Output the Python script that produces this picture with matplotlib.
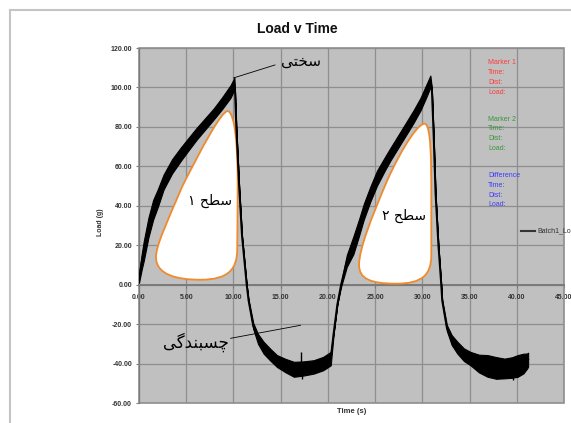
import numpy as np
import matplotlib
matplotlib.use('Agg')
import matplotlib.pyplot as plt
from matplotlib.path import Path
from matplotlib.patches import PathPatch, Rectangle
from matplotlib.lines import Line2D

# load trace: time (s), mid load (g), noise half-band (g)
time = [0.0, 0.3, 0.5, 1.0, 1.5, 2.0, 2.6, 3.5, 4.4, 5.2, 6.1, 7.0, 7.9, 8.8, 9.7, 10.1,
        10.15, 10.3, 10.6, 10.9, 11.1, 11.4, 11.6, 12.1, 12.6, 13.2, 13.9, 14.6, 15.5,
        16.4, 17.4, 18.5, 19.5, 20.3, 20.6, 21.0, 21.4, 22.0, 22.7, 23.3, 23.8, 24.5,
        25.2, 26.0, 26.6, 27.5, 28.4, 29.1, 29.8, 30.4, 30.85,
        31.0, 31.2, 31.4, 31.7, 32.0, 32.1, 32.6, 33.1, 33.7, 34.4, 35.1, 36.0, 36.9,
        37.8, 38.7, 39.5, 40.1, 40.7, 41.1, 41.2]
load = [3, 12, 17, 29, 38, 44, 52, 60, 66, 71, 76.5, 81.5, 86.5, 92, 98, 102,
        100, 80, 50, 25, 15, 0, -8, -21, -27.5, -32, -35.5, -38.7, -41,
        -42.9, -42.5, -41.7, -40, -37.5, -25, -10, 0, 12, 20, 29, 37, 46,
        54, 61, 66, 73, 80, 85.5, 91.5, 98, 103,
        100, 75, 46, 20, 0, -8, -22, -28, -31.9, -35.5, -37.5, -40, -41.2,
        -42.2, -42.5, -42, -41.2, -40, -38.7, -38]
noise = [2, 4, 5, 5, 5, 4.5, 3.8, 3.6, 3.4, 3.2, 3.0, 2.9, 2.8, 3.0, 3.2, 3,
         0, 0, 0, 0, 0, 0, 0.5, 1.5, 2.5, 3, 3, 3, 3.4,
         3.8, 3.6, 3.4, 3.4, 3.4, 0.5, 0, 1, 3, 4.5, 4.2, 4.0, 3.8,
         3.8, 3.4, 3.2, 3.2, 3.2, 3.2, 3.2, 3.2, 3,
         0, 0, 0, 0, 0, 0.5, 1.5, 2.5, 3, 3.2, 3.4, 4.5, 5.5,
         5.5, 5, 5.2, 5.5, 5, 3.8, 3.5]

# a few noise spikes (time, low, high)
spike_t = [17.1, 17.3, 37.9, 39.6]
spike_lo = [-44, -48, -48, -48.5]
spike_hi = [-34, -40, -40, -41]

xticks = [0, 5, 10, 15, 20, 25, 30, 35, 40, 45]
yticks = [-60, -40, -20, 0, 20, 40, 60, 80, 100, 120]

# hand drawn regions: start point + bezier segments (data units)
blob1 = [(9.45, 88),
         (10.2, 86), (10.45, 70), (10.45, 50),
         (10.45, 35), (10.4, 25), (10.4, 18),
         (10.4, 8), (9.5, 2.5), (6.5, 2.5),
         (4.0, 2.5), (1.8, 5), (1.8, 14),
         (1.8, 20), (3.0, 32), (4.6, 50),
         (6.5, 68), (8.8, 89), (9.45, 88)]
blob2 = [(30.35, 81.5),
         (30.9, 79), (30.95, 65), (30.95, 45),
         (30.95, 30), (30.95, 20), (30.95, 15),
         (30.95, 5), (30.0, 0.5), (27.2, 0.5),
         (24.5, 0.5), (23.3, 3), (23.3, 10),
         (23.3, 18), (24.6, 34), (26.3, 53),
         (27.9, 70), (29.7, 83), (30.35, 81.5)]

# persian labels
label_stiff = 'سختی'
label_area1 = 'سطح ۱'
label_area2 = 'سطح ۲'
label_adh = 'چسبندگی'

FORMS = {
    'س': '\uFEB1\uFEB2\uFEB3\uFEB4',
    'خ': '\uFEA5\uFEA6\uFEA7\uFEA8',
    'ت': '\uFE95\uFE96\uFE97\uFE98',
    'ی': '\uFBFC\uFBFD\uFBFE\uFBFF',
    'ط': '\uFEC1\uFEC2\uFEC3\uFEC4',
    'ح': '\uFEA1\uFEA2\uFEA3\uFEA4',
    'چ': '\uFB7A\uFB7B\uFB7C\uFB7D',
    'ب': '\uFE8F\uFE90\uFE91\uFE92',
    'ن': '\uFEE5\uFEE6\uFEE7\uFEE8',
    'گ': '\uFB92\uFB93\uFB94\uFB95',
    'د': '\uFEA9\uFEAA',
}


def shape(s):
    # matplotlib has no arabic shaping, so pick the joined forms and reverse
    out = []
    for i, c in enumerate(s):
        f = FORMS.get(c)
        if f is None:
            out.append(c)
            continue
        prev = s[i - 1] if i > 0 else ''
        nxt = s[i + 1] if i + 1 < len(s) else ''
        a = prev in FORMS and len(FORMS[prev]) == 4
        b = len(f) == 4 and nxt in FORMS
        if len(f) == 4:
            out.append(f[(1 if a else 0) + (2 if b else 0)])
        else:
            out.append(f[1 if a else 0])
    return ''.join(reversed(out))


W, H = 571, 423
fig = plt.figure(figsize=(W / 100, H / 100), dpi=100)
fig.patch.set_facecolor('white')

# outer chart border
fig.add_artist(Line2D([10 / W, 570 / W], [1 - 10 / H, 1 - 10 / H], color='#c4c4c4', lw=1.5))
fig.add_artist(Line2D([10 / W, 10 / W], [1 - 10 / H, 0], color='#c4c4c4', lw=1.5))

ax = fig.add_axes([139 / W, 1 - 403 / H, 425 / W, 355 / H])
ax.set_facecolor('#c0c0c0')
ax.set_xlim(0, 45)
ax.set_ylim(-60, 120)
ax.set_xticks(xticks)
ax.set_yticks(yticks)
ax.set_xticklabels(['%.2f' % v for v in xticks])
ax.set_yticklabels(['%.2f' % v for v in yticks])
ax.grid(True, color='#8e8e8e', lw=0.9)
ax.set_axisbelow(True)

for s in ['top', 'right']:
    ax.spines[s].set_visible(False)
ax.spines['left'].set_color('#7a7a7a')
ax.spines['bottom'].set_position(('data', 0))
ax.spines['bottom'].set_color('#7a7a7a')
ax.spines['bottom'].set_linewidth(1.4)
ax.add_patch(Rectangle((0, 0), 1, 1, transform=ax.transAxes, fill=False,
                       ec='#8e8e8e', lw=1.2, clip_on=False, zorder=1))

ax.tick_params(axis='both', length=2, color='#7a7a7a', pad=3,
               labelsize=5, labelcolor='#333333')
ax.tick_params(axis='x', pad=5)
for lab in ax.get_xticklabels() + ax.get_yticklabels():
    lab.set_fontfamily('Liberation Sans')
    lab.set_fontweight('bold')

# regions
for pts in [blob1, blob2]:
    codes = [Path.MOVETO] + [Path.CURVE4] * (len(pts) - 1)
    ax.add_patch(PathPatch(Path(pts, codes), fc='white', ec='#f08a2c', lw=1.3, zorder=3))

# trace
t = np.array(time)
y = np.array(load)
n = np.array(noise)
ax.fill_between(t, y - n, y + n, color='black', lw=0.8, zorder=4)
ax.plot(t, y, color='black', lw=1.4, zorder=4)
ax.vlines(spike_t, spike_lo, spike_hi, color='black', lw=1.0, zorder=4)

# persian annotations
pfont = 'DejaVu Sans'
ax.text(17.1, 113.5, shape(label_stiff), fontsize=11, family=pfont, ha='center', va='center', zorder=6)
ax.plot([10.0, 14.4], [104.8, 111.4], color='black', lw=0.6, zorder=6)
ax.text(7.5, 42.5, shape(label_area1), fontsize=10, family=pfont, ha='center', va='center', zorder=6)
ax.text(28.1, 35.0, shape(label_area2), fontsize=10, family=pfont, ha='center', va='center', zorder=6)
ax.text(6.0, -29.2, shape(label_adh), fontsize=12, family=pfont, ha='center', va='center', zorder=6)
ax.plot([9.7, 17.1], [-27.2, -20.6], color='black', lw=0.6, zorder=6)

# marker readouts
blocks = [(62, '#ff3b3b', ['Marker 1', 'Time:', 'Dist:', 'Load:']),
          (119, '#3a963a', ['Marker 2', 'Time:', 'Dist:', 'Load:']),
          (175, '#3b3bff', ['Difference', 'Time:', 'Dist:', 'Load:'])]
for y0, col, lines in blocks:
    for k, s in enumerate(lines):
        fig.text(488 / W, 1 - (y0 + 10 * k) / H, s, color=col, fontsize=5,
                 family='Liberation Sans', va='center', ha='left')

fig.add_artist(Line2D([521 / W, 535 / W], [1 - 231 / H, 1 - 231 / H], color='#333333', lw=1.5))
fig.text(537 / W, 1 - 231 / H, 'Batch1_Load', fontsize=5, family='Liberation Sans',
         color='#333333', va='center', ha='left')

fig.text(297 / W, 1 - 29 / H, 'Load v Time', fontsize=10, fontweight='bold',
         family='Liberation Sans', ha='center', va='center', color='#111111')
fig.text(352 / W, 1 - 411 / H, 'Time (s)', fontsize=5.5, fontweight='bold',
         family='Liberation Sans', ha='center', va='center', color='#333333')
fig.text(100 / W, 1 - 222 / H, 'Load (g)', fontsize=5, fontweight='bold', rotation=90,
         family='Liberation Sans', ha='center', va='center', color='#333333')

fig.savefig('out.png', dpi=100)
